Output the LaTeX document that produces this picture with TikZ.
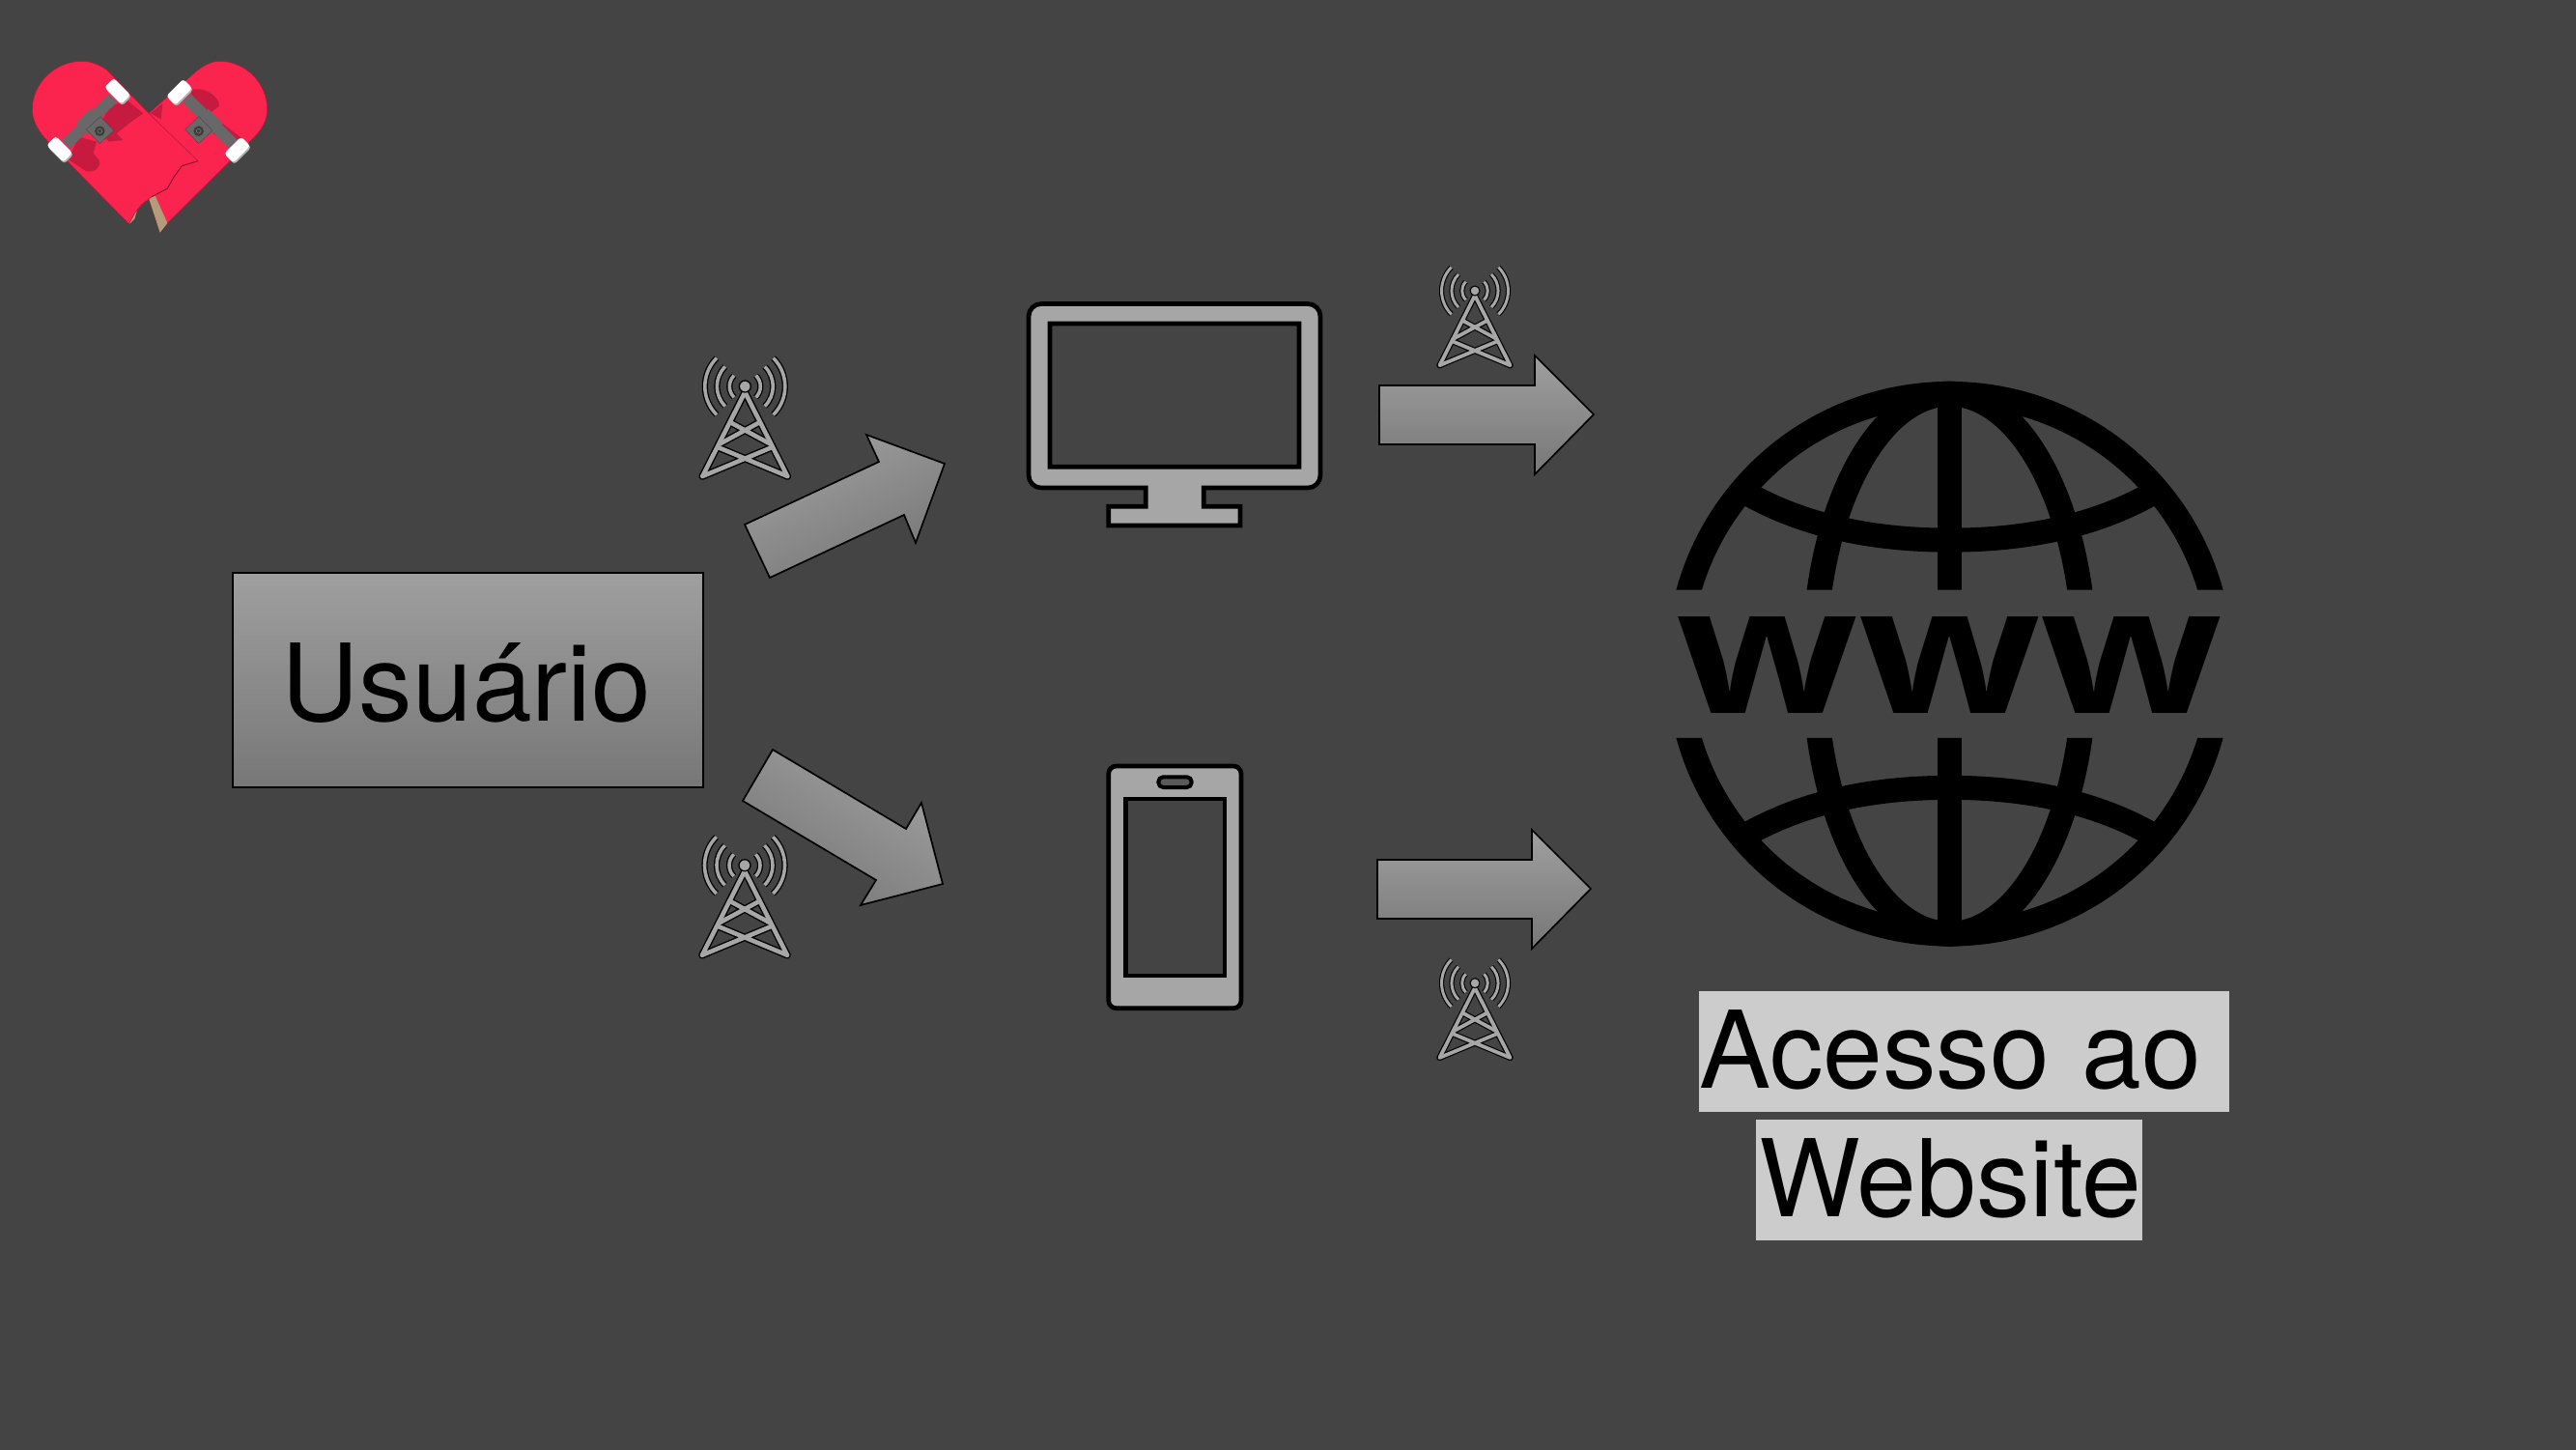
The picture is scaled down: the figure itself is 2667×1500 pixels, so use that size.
\documentclass[tikz,border=0pt]{standalone}
\usepackage{fontspec}
\usepackage{graphicx}
\setmainfont{TeX Gyre Heros}
\newfontfamily\wwwfont{Open Sans}
\definecolor{bgc}{HTML}{444444}
\definecolor{icong}{HTML}{A6A6A6}
\definecolor{gt}{HTML}{9F9F9F}
\definecolor{gb}{HTML}{777777}
\definecolor{boxg}{HTML}{CCCCCC}
\definecolor{sk}{HTML}{FA244F}
\definecolor{skd}{HTML}{C71A3F}
\definecolor{tan}{HTML}{B29C7A}
\definecolor{trk}{HTML}{686868}
\tikzset{
  grad/.style={draw=black,line width=1.7pt,top color=gt,bottom color=gb,middle color=gt!50!gb},
  device/.style={draw=black,line width=4.7pt,fill=icong,even odd rule,line join=miter},
  label/.style={fill=boxg,inner sep=0pt,anchor=north west,align=left,text=black,font=\fontsize{111}{125}\selectfont},
}
\newcommand{\towericon}[3]{%
  \begin{scope}[shift={(#1,#2)},scale=#3,line cap=butt,line join=round]
    \foreach \c/\wa/\wb in {black/6.2/7.4,icong/3.6/4.6}{
      \draw[\c,line width=#3*\wa pt] (135:16) arc[start angle=135,end angle=225,radius=16];
      \draw[\c,line width=#3*\wa pt] (135:29) arc[start angle=135,end angle=225,radius=29];
      \draw[\c,line width=#3*\wa pt] (135:41.5) arc[start angle=135,end angle=225,radius=41.5];
      \draw[\c,line width=#3*\wa pt] (45:16) arc[start angle=45,end angle=-45,radius=16];
      \draw[\c,line width=#3*\wa pt] (45:29) arc[start angle=45,end angle=-45,radius=29];
      \draw[\c,line width=#3*\wa pt] (45:41.5) arc[start angle=45,end angle=-45,radius=41.5];
      \draw[\c,line width=#3*\wb pt,line cap=round] (-44,93) -- (0,6) -- (44,93);
      \draw[\c,line width=#3*\wb pt,line cap=round] (-44,93) -- (28,63) (44,93) -- (-28,63);
      \draw[\c,line width=#3*\wb pt,line cap=round] (-27,60) -- (15.5,37) (27,60) -- (-15.5,37);
    }
    \fill[icong,draw=black,line width=#3*1.3pt] (0,0) circle[radius=6];
  \end{scope}}
\newcommand{\skwheel}[3]{%
  \fill[black!30,rounded corners=3pt,rotate around={#3:(#1+3,#2+5)}] (#1+3-37,#2+5-20) rectangle (#1+3+37,#2+5+20);
  \fill[white,rounded corners=3pt,rotate around={#3:(#1,#2)}] (#1-37,#2-20) rectangle (#1+37,#2+20);}
\begin{document}
\begin{tikzpicture}[x=1pt,y=-1pt]
\useasboundingbox (0,0) rectangle (2667,1500);
\fill[bgc] (-5,-5) rectangle (2672,1505);

% logo
\begin{scope}[shift={(0,30)},scale=1/3,line join=round]
  % right board
  \fill[sk,draw=sk!70!black,line width=.5pt] (462,262) -- (600,140) .. controls (635,108) and (665,100) .. (680,100)
    .. controls (765,100) and (830,170) .. (830,250) .. controls (830,290) and (805,325) .. (775,350)
    -- (520,603) -- (497,632) -- (462,525) -- cycle;
  \fill[skd] (468,262) -- (505,232) -- (500,280) -- cycle;
  \fill[skd] (590,190) .. controls (640,175) and (685,215) .. (680,240) -- (650,262) -- (752,340) -- (725,365) -- (640,310) -- cycle;
  % right truck
  \draw[trk,line width=12pt] (580,215) -- (725,358);
  \draw[trk,line width=16pt] (630,265) -- (675,310);
  \fill[trk,draw=black!70,line width=.5pt] (617,272) -- (660,315) -- (617,356) -- (575,312) -- cycle;
  \fill[trk!60!black] (617,317) circle[radius=16];
  \draw[black!55,line width=.6pt] (617,317) circle[radius=7];
  \skwheel{557}{196}{45}
  \skwheel{737}{375}{45}
  % tan
  \fill[tan] (462,525) -- (482,518) -- (520,603) -- (497,632) -- cycle;
  \fill[tan] (428,555) -- (400,607) -- (418,590) -- cycle;
  % left board
  \fill[sk,draw=sk!70!black,line width=.5pt] (462,262) -- (335,130) .. controls (310,110) and (280,100) .. (255,100)
    .. controls (170,100) and (100,170) .. (100,250) .. controls (100,285) and (120,320) .. (150,350)
    -- (400,605) -- (420,570) -- (440,545) -- (470,522) -- (520,495) -- (540,460) -- (565,425) -- (615,410) -- cycle;
  \draw[sk!55!black,line width=.8pt] (470,522) -- (520,495) -- (540,460) -- (565,425) -- (615,410);
  \fill[skd] (395,222) -- (445,262) -- (405,290) -- (362,325) -- (382,345) -- (340,350) -- (300,320) -- (340,240) -- cycle;
  \fill[skd] (245,335) -- (212,405) -- (268,442) .. controls (295,445) and (315,430) .. (308,408) -- (290,385) -- (300,350) -- cycle;
  % left truck
  \draw[trk,line width=12pt] (350,215) -- (205,358);
  \draw[trk,line width=17pt] (300,265) -- (255,310);
  \fill[trk,draw=black!70,line width=.5pt] (312,272) -- (353,315) -- (310,356) -- (268,312) -- cycle;
  \fill[trk!60!black] (310,317) circle[radius=16];
  \draw[black!55,line width=.6pt] (310,317) circle[radius=7];
  \skwheel{365}{193}{-45}
  \skwheel{185}{373}{-45}
\end{scope}

% user box
\node[draw=black,line width=1.5pt,top color=gt,bottom color=gb,middle color=gt!50!gb,
      inner sep=0pt,anchor=north west,minimum width=487pt,minimum height=222pt] (user) at (240,592) {};
\node[anchor=base,inner sep=0pt,font=\fontsize{111}{125}\selectfont] (usertext) at (483,746) {Usuário};

% arrows
\path[grad,shading angle=26] (771,543) -- (910,478) -- (897,450) -- (978,480) -- (948,562) -- (936,533) -- (797,598) -- cycle;
\path[grad,shading angle=-32] (800,776) -- (938,858) -- (954,831) -- (976,915) -- (891,937) -- (907,911) -- (769,829) -- cycle;
\path[grad] (1428,399) -- (1589,399) -- (1589,368) -- (1650,429) -- (1589,491) -- (1589,460) -- (1428,460) -- cycle;
\path[grad] (1426,890) -- (1586,890) -- (1586,859) -- (1647,920) -- (1586,982) -- (1586,951) -- (1426,951) -- cycle;

% towers
\towericon{771.3}{400}{1}
\towericon{771}{895.7}{1}
\towericon{1527}{301}{0.83}
\towericon{1527}{1017.7}{0.83}

% monitor
\path[device] (1078,314.5) -- (1354,314.5) arc[start angle=-90,end angle=0,radius=13] -- (1367,492)
  arc[start angle=0,end angle=90,radius=13] -- (1246.3,505) -- (1246.3,524.3) -- (1284,524.3) -- (1284,544)
  -- (1147.7,544) -- (1147.7,524.3) -- (1186.3,524.3) -- (1186.3,505) -- (1078,505)
  arc[start angle=90,end angle=180,radius=13] -- (1065,327.5) arc[start angle=180,end angle=270,radius=13] -- cycle
  (1087,335) rectangle (1345,483.3);

% phone
\path[device,rounded corners=8pt] (1147.7,793) rectangle (1285,1043.7);
\fill[bgc,draw=black,line width=4.7pt] (1165.3,827) rectangle (1268,1010);
\draw[black,line width=4pt,fill=black!65,rounded corners=5pt] (1199.3,804.3) rectangle (1233.7,815);

% globe
\begin{scope}[shift={(1720,380)},xscale=0.3827,yscale=0.3954]
  \begin{scope}
    \clip (0,0) rectangle (1568,583) (0,971) rectangle (1568,1568);
    \draw[black,line width=25.5pt] (780,777) ellipse[x radius=733,y radius=707];
    \draw[black,line width=26pt] (780,777) ellipse[x radius=366,y radius=707];
    \draw[black,line width=25pt] (780,70) -- (780,1484);
    \draw[black,line width=25pt] (225,327) .. controls (400,425) and (600,453) .. (780,453) .. controls (960,453) and (1160,425) .. (1335,327);
    \draw[black,line width=25pt] (225,1227) .. controls (400,1129) and (600,1101) .. (780,1101) .. controls (960,1101) and (1160,1129) .. (1335,1227);
  \end{scope}
\end{scope}
\node[anchor=base,inner sep=0pt,text=black] (www) at (2018.5,738)
  {\scalebox{1.204}[1]{\fontsize{183}{200}\selectfont\wwwfont\bfseries www}};

% labels
\node[label,text width=549pt,text height=100pt,text depth=25pt] (acesso) at (1759,1026) {Acesso\hspace{-3.5pt} ao};
\node[label,text width=400pt,text height=100pt,text depth=25pt] (website) at (1818,1159) {\hspace*{3pt}Website};
\end{tikzpicture}
\end{document}
